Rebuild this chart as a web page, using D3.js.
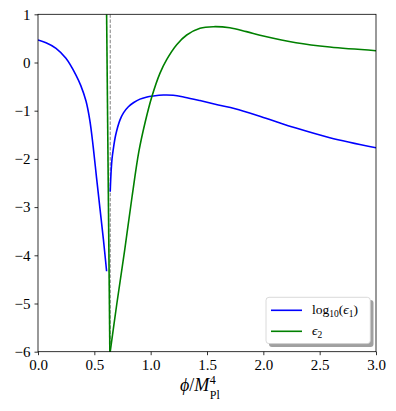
<!DOCTYPE html>
<html>
<head>
<meta charset="utf-8">
<script src="https://cdn.jsdelivr.net/npm/d3@7"></script>
<style>
  body { margin: 0; background: #fff; }
  svg, text { font-family: "Liberation Serif", "Times New Roman", serif; }
</style>
</head>
<body>
<div id="chart"></div>
<script>
// log10(eps1), left of the kink
var phiBlueLeft = [0, 0.071, 0.16, 0.248, 0.337, 0.38, 0.426, 0.46, 0.49, 0.52, 0.55, 0.58, 0.609];
var logEps1Left = [0.467, 0.41, 0.295, 0.087, -0.26, -0.48, -0.8, -1.2, -1.75, -2.4, -3.03, -3.66, -4.33];

// log10(eps1), right of the kink
var phiBlueRight = [0.641, 0.648, 0.657, 0.668, 0.69, 0.728, 0.76, 0.802, 0.85, 0.905, 0.96, 1.024, 1.113, 1.2, 1.3, 1.437, 1.6, 1.75, 2.0, 2.29, 2.59, 3.0];
var logEps1Right = [-2.68, -2.3, -2.0, -1.8, -1.5, -1.19, -1.04, -0.917, -0.83, -0.76, -0.72, -0.695, -0.675, -0.68, -0.72, -0.79, -0.88, -0.96, -1.14, -1.36, -1.56, -1.77];

// eps2: the steep drop, then the rise
var phiGreenDrop = [0.609, 0.638];
var eps2Drop = [1.0, -6.05];
var phiGreenRise = [0.638, 0.70, 0.77, 0.835, 0.895, 0.95, 1.009, 1.083, 1.142, 1.231, 1.32, 1.438, 1.556, 1.703, 1.85, 2.0, 2.29, 2.59, 3.0];
var eps2Rise = [-6.05, -5.0, -3.88, -2.78, -1.85, -1.25, -0.72, -0.22, 0.06, 0.37, 0.57, 0.71, 0.743, 0.72, 0.64, 0.55, 0.41, 0.32, 0.245];

var phiMarker = 0.641;

var xTicks = [0, 0.5, 1.0, 1.5, 2.0, 2.5, 3.0];
var yTicks = [-6, -5, -4, -3, -2, -1, 0, 1];

var width = 396;
var height = 411;

var x = d3.scaleLinear().domain([0, 3]).range([38, 376]);
var y = d3.scaleLinear().domain([-6, 1]).range([351.7, 14.3]);

var svg = d3.select('#chart')
  .append('svg')
  .attr('width', width)
  .attr('height', height)
  .attr('font-family', '"Liberation Serif", serif');

svg.append('defs').append('clipPath')
  .attr('id', 'plot-clip')
  .append('rect')
  .attr('x', x(0)).attr('y', y(1))
  .attr('width', x(3) - x(0)).attr('height', y(-6) - y(1));

var zip = function(xs, ys) { return xs.map(function(v, i) { return [v, ys[i]]; }); };

var line = d3.line()
  .x(function(d) { return x(d[0]); })
  .y(function(d) { return y(d[1]); })
  .curve(d3.curveCatmullRom.alpha(0.5));

var plot = svg.append('g').attr('clip-path', 'url(#plot-clip)');

// dashed marker
plot.append('line')
  .attr('x1', x(phiMarker)).attr('x2', x(phiMarker))
  .attr('y1', y(1)).attr('y2', y(-6))
  .attr('stroke', '#808080')
  .attr('stroke-width', 1)
  .attr('stroke-dasharray', '3.5,1.6');

var series = [
  { data: zip(phiBlueLeft, logEps1Left), color: '#0000ff' },
  { data: zip(phiBlueRight, logEps1Right), color: '#0000ff' },
  { data: zip(phiGreenDrop, eps2Drop), color: '#008000' },
  { data: zip(phiGreenRise, eps2Rise), color: '#008000' }
];

plot.selectAll('path.curve')
  .data(series)
  .enter()
  .append('path')
  .attr('class', 'curve')
  .attr('d', function(d) { return line(d.data); })
  .attr('fill', 'none')
  .attr('stroke', function(d) { return d.color; })
  .attr('stroke-width', 1.6);

// axes
var xAxis = d3.axisBottom(x)
  .tickValues(xTicks)
  .tickFormat(d3.format('.1f'))
  .tickSizeInner(3.5).tickSizeOuter(0).tickPadding(4.5);

var yAxis = d3.axisLeft(y)
  .tickValues(yTicks)
  .tickFormat(function(d) { return d < 0 ? '\u2212' + Math.abs(d) : d; })
  .tickSizeInner(3.5).tickSizeOuter(0).tickPadding(4);

var gx = svg.append('g').attr('transform', 'translate(0,' + y(-6) + ')').call(xAxis);
var gy = svg.append('g').attr('transform', 'translate(' + x(0) + ',0)').call(yAxis);

[gx, gy].forEach(function(g) {
  g.attr('font-family', '"Liberation Serif", serif').attr('font-size', 15);
  g.select('.domain').remove();
  g.selectAll('line').attr('stroke', '#000').attr('stroke-width', 0.8);
  g.selectAll('text').attr('fill', '#000');
});

// frame
svg.append('rect')
  .attr('x', x(0)).attr('y', y(1))
  .attr('width', x(3) - x(0)).attr('height', y(-6) - y(1))
  .attr('fill', 'none')
  .attr('stroke', '#000')
  .attr('stroke-width', 0.8);

// x label: phi / M_Pl^4
var xl = svg.append('text')
  .attr('x', 180).attr('y', 390.5)
  .attr('font-size', 18);
xl.append('tspan').attr('font-style', 'italic').text('\u03d5');
xl.append('tspan').text('/');
xl.append('tspan').attr('font-style', 'italic').text('M');
var xlEnd = 180 + xl.node().getComputedTextLength() + 0.5;
svg.append('text').attr('x', xlEnd).attr('y', 384).attr('font-size', 12).text('4');
svg.append('text').attr('x', xlEnd).attr('y', 398.5).attr('font-size', 12).text('Pl');

// legend
var legend = svg.append('g');
legend.append('rect')
  .attr('x', 269).attr('y', 300)
  .attr('width', 104.5).attr('height', 47)
  .attr('rx', 3)
  .attr('fill', '#a0a0a0');
legend.append('rect')
  .attr('x', 266).attr('y', 297.3)
  .attr('width', 104.3).attr('height', 46.3)
  .attr('rx', 3)
  .attr('fill', '#fff')
  .attr('stroke', '#d0d0d0')
  .attr('stroke-width', 0.8);

var legendItems = [
  { color: '#0000ff', y: 310.3 },
  { color: '#008000', y: 331.3 }
];
legend.selectAll('line.key')
  .data(legendItems)
  .enter()
  .append('line')
  .attr('class', 'key')
  .attr('x1', 271).attr('x2', 302)
  .attr('y1', function(d) { return d.y; })
  .attr('y2', function(d) { return d.y; })
  .attr('stroke', function(d) { return d.color; })
  .attr('stroke-width', 1.6);

var t1 = legend.append('text').attr('x', 312).attr('y', 313.5).attr('font-size', 13.5);
t1.append('tspan').text('log');
t1.append('tspan').attr('dy', 3).attr('font-size', 9.5).text('10');
t1.append('tspan').attr('dy', -3).text('(');
t1.append('tspan').attr('font-style', 'italic').text('\u03f5');
t1.append('tspan').attr('dy', 3).attr('font-size', 9.5).text('1');
t1.append('tspan').attr('dy', -3).text(')');

var t2 = legend.append('text').attr('x', 312).attr('y', 334.5).attr('font-size', 13.5);
t2.append('tspan').attr('font-style', 'italic').text('\u03f5');
t2.append('tspan').attr('dy', 3).attr('font-size', 9.5).text('2');
</script>
</body>
</html>
